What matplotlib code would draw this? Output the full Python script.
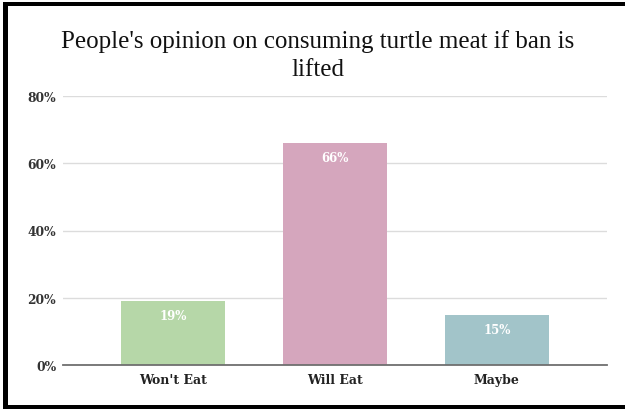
import matplotlib
matplotlib.use("Agg")
import matplotlib.pyplot as plt
from matplotlib.patches import Rectangle

# data
categories = ["Won't Eat", "Will Eat", "Maybe"]
shares = [19, 66, 15]
bar_colors = ["#b6d7a8", "#d5a6bd", "#a2c4c9"]
y_ticks = [0, 20, 40, 60, 80]
title_lines = ["People's opinion on consuming turtle meat if ban is", "lifted"]

W, H = 625, 410
fig = plt.figure(figsize=(W / 100, H / 100), dpi=100)
fig.patch.set_facecolor("white")

ax = fig.add_axes([63 / W, 1 - 366 / H, (607 - 63) / W, (366 - 97) / H])
x = range(len(categories))
ax.bar(x, shares, width=0.64, color=bar_colors, zorder=2)
for i, v in enumerate(shares):
    ax.annotate(f"{v}%", (i, v), xytext=(0, -6), textcoords="offset points",
                ha="center", va="top", color="white", fontsize=8.5,
                fontweight="bold", family="DejaVu Serif", zorder=3)

ax.set_xlim(-0.68, 2.68)
ax.set_ylim(0, 80)
ax.set_yticks(y_ticks)
ax.set_yticklabels([f"{t}%" for t in y_ticks], fontsize=8.8, fontweight="bold",
                   family="DejaVu Serif", color="#333333")
ax.set_xticks(list(x))
ax.set_xticklabels(categories, fontsize=9, fontweight="bold",
                   family="DejaVu Serif", color="#222222")
ax.tick_params(length=0)
ax.tick_params(axis="y", pad=5)
ax.tick_params(axis="x", pad=6)
ax.yaxis.grid(True, color="#dcdcdc", lw=1)
ax.set_axisbelow(True)
for s in ["top", "right", "left"]:
    ax.spines[s].set_visible(False)
ax.spines["bottom"].set_color("#6f6f6f")
ax.spines["bottom"].set_linewidth(1.3)
ax.spines["bottom"].set_zorder(4)

# title, two lines as in the reference
for line, base in zip(title_lines, [48, 76]):
    fig.text(317.5 / W, 1 - base / H, line, ha="center", va="baseline",
             fontsize=18, family="Liberation Serif", color="#111111")

# black frame on left, top and bottom
for (x0, y0, w, h) in [(3, 3, 5, 407), (3, 3, 622, 4), (3, 406, 622, 4)]:
    fig.add_artist(Rectangle((x0 / W, 1 - (y0 + h) / H), w / W, h / H,
                             transform=fig.transFigure, color="black", lw=0))

fig.savefig("out.png", dpi=100)
